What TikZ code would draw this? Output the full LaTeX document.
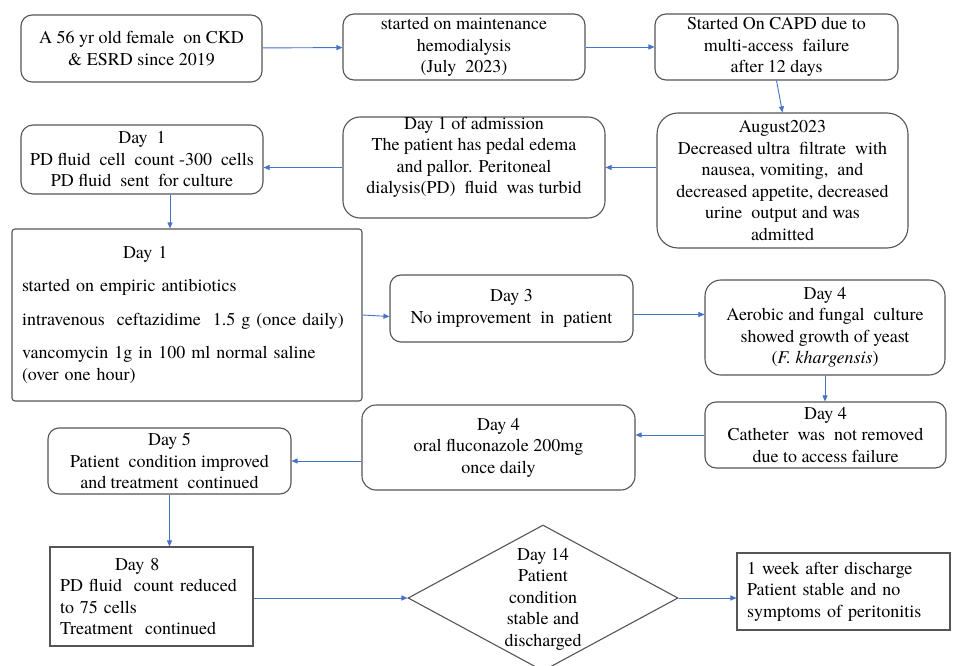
\documentclass[tikz,border=0pt]{standalone}
\usepackage{fontspec}
\setmainfont{TeX Gyre Termes}
\newfontfamily\tnr{TeX Gyre Termes}
\usetikzlibrary{arrows.meta,shapes.geometric}
\definecolor{bordc}{RGB}{85,85,85}
\definecolor{arrc}{RGB}{68,114,196}
\tikzset{
  box/.style={draw=bordc, line width=1.1pt, fill=white, inner sep=0pt, align=center,
    font=\tnr\fontsize{18}{21.5}\selectfont},
  rbox/.style={box, rounded corners=#1},
  lbox/.style={box, align=left, inner xsep=10pt},
  conn/.style={draw=arrc, line width=0.9pt, -{Triangle[length=6pt,width=5pt]}},
  txt/.style={inner sep=0pt, align=center, font=\tnr\fontsize{18}{21.5}\selectfont},
}
\begin{document}
\begin{tikzpicture}[x=1pt,y=-1pt]
\useasboundingbox (0,0) rectangle (956,666);
\fill[white] (0,0) rectangle (956,666);

\node[rbox=11pt, minimum width=241pt, minimum height=67pt] (A) at (141.5,48.5)
  {A 56 yr old female\ \ on CKD\\\& ESRD since 2019};
\node[rbox=11pt, minimum width=242pt, minimum height=66pt] (B) at (464,47)
  {started on maintenance\\hemodialysis\\(July\ \ 2023)};
\node[rbox=11pt, minimum width=243pt, minimum height=66pt] (C) at (776.5,47)
  {Started On CAPD due to\\multi-access\ \ failure\\after 12 days};
\node[rbox=21pt, minimum width=251pt, minimum height=135pt] (D) at (782.5,180.5)
  {August2023\\Decreased ultra\ \ filtrate\ \ with\\nausea, vomiting,\ \ and\\decreased appetite, decreased\\urine\ \ output and was\\admitted};
\node[rbox=17pt, minimum width=262pt, minimum height=101pt] (E) at (474,167.5) {};
\node[txt] (Et) at (474,157.5)
  {Day 1 of admission\\The patient has pedal edema\\and pallor. Peritoneal\\dialysis(PD)\ \ fluid\ \ was turbid};
\node[rbox=12pt, minimum width=242pt, minimum height=69pt] (F) at (142,159.5)
  {Day\ \ 1\\PD fluid\ \ cell\ \ count -300\ \ cells\\PD fluid\ \ sent\ \ for culture};
\node[lbox, rounded corners=3pt, text width=330pt, minimum height=172pt] (G) at (187,315)
  {\hspace*{101pt}Day 1\\[12pt]
   started on empiric antibiotics\\[12pt]
   intravenous\ \ ceftazidime\ \ 1.5 g (once daily)\\[12pt]
   vancomycin 1g in 100 ml normal saline\\
   (over one hour)};
\node[rbox=11pt, minimum width=243pt, minimum height=67pt] (H) at (511.5,308.5)
  {Day 3\\No improvement\ \ in\ \ patient};
\node[rbox=16pt, minimum width=240pt, minimum height=95pt] (I) at (825,327.5)
  {Day 4\\Aerobic and fungal\ \ culture\\showed growth of yeast\\(\textit{F. khargensis})};
\node[rbox=11pt, minimum width=241pt, minimum height=66pt] (J) at (825.5,435)
  {Day 4\\Catheter\ \ was\ \ not removed\\due to access failure};
\node[rbox=14pt, minimum width=273pt, minimum height=85pt] (K) at (498.5,447.5)
  {Day 4\\oral fluconazole 200mg\\once daily};
\node[rbox=11pt, minimum width=243pt, minimum height=66pt] (L) at (169.5,461)
  {Day 5\\Patient\ \ condition improved\\and treatment\ \ continued};
\node[lbox, text width=183pt, minimum height=99pt] (M) at (151.5,596.5)
  {\hspace*{55pt}Day 8\\PD fluid\ \ count reduced\\to 75 cells\\Treatment\ \ continued};
\node[draw=bordc, line width=1.1pt, fill=white, diamond, inner sep=0pt,
      minimum width=270pt, minimum height=146pt] (Dia) at (543,598) {};
\node[txt] (Diat) at (543,599) {Day 14\\Patient\\condition\\stable and\\discharged};
\node[lbox, text width=193pt, minimum height=77pt] (N) at (843.5,591.5)
  {1 week after discharge\\Patient stable and no\\symptoms of peritonitis};

\draw[conn] (A) -- (B);
\draw[conn] (B) -- (C);
\draw[conn] (C.south) -- (D.north);
\draw[conn] (E.east -| D.west) -- (E.east);
\draw[conn] (E.west) -- (E.west -| F.east);
\draw[conn] ([xshift=28pt]F.south) -- ([xshift=28pt]F.south |- G.north);
\draw[conn] (G.east) -- ([yshift=-8pt]H.west);
\draw[conn] ([yshift=-6pt]H.east) -- ([yshift=-6pt]H.east -| I.west);
\draw[conn] (I.south) -- (I.south |- J.north);
\draw[conn] (J.west) -- (J.west -| K.east);
\draw[conn] (L.east -| K.west) -- (L.east);
\draw[conn] (L.south) -- (L.south |- M.north);
\draw[conn] (Dia.west -| M.east) -- (Dia.west);
\draw[conn] (Dia.east) -- (Dia.east -| N.west);
\end{tikzpicture}
\end{document}
